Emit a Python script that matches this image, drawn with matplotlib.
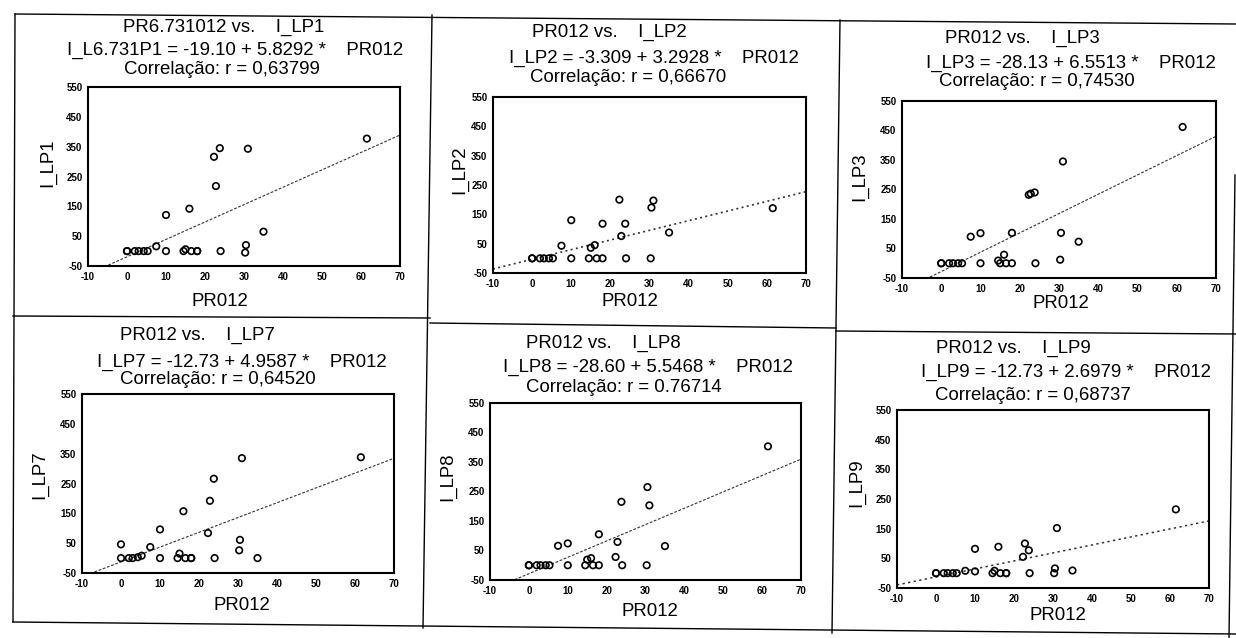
import matplotlib
matplotlib.use("Agg")
import matplotlib.pyplot as plt
from matplotlib.lines import Line2D

plt.rcParams['font.family'] = ['Liberation Sans', 'DejaVu Sans']
plt.rcParams['axes.unicode_minus'] = False

W, H = 1236, 638

# ---- data -------------------------------------------------------------
pr012 = [0, 0, 2, 3, 4.3, 5.3, 7.5, 10, 10, 14.5, 15, 16, 16.5, 18, 18,
         22.3, 22.8, 23.8, 24, 30.3, 30.5, 31, 35, 61.5]

i_lp1 = [0, 0, 0, 0, 0, 0, 16, 121, 0, 0, 6, 142, 0, 0, 0,
         316, 218, 345, 0, -5, 20, 343, 65, 377]
i_lp2 = [0, 0, 0, 0, 0, 0, 43, 130, 0, 0, 36, 45, 0, 0, 118,
         200, 76, 118, 0, 0, 173, 197, 88, 171]
i_lp3 = [0, 0, 0, 0, 0, 0, 90, 102, 0, 9, 0, 29, 0, 0, 103,
         232, 236, 240, 0, 12, 103, 345, 73, 462]
i_lp7 = [46, 0, 0, 0, 3, 8, 37, 96, 0, 0, 15, 157, 0, 0, 0,
         84, 192, 266, 0, 26, 61, 335, 0, 338]
i_lp8 = [0, 0, 0, 0, 0, 0, 66, 74, 0, 0, 19, 24, 0, 0, 105,
         28, 79, 215, 0, 0, 265, 203, 65, 403]
i_lp9 = [0, 0, 0, 0, 0, 0, 8, 82, 6, 0, 8, 89, 0, 0, 0,
         55, 100, 77, 0, 0, 16, 152, 9, 215]

series = [i_lp1, i_lp2, i_lp3, i_lp7, i_lp8, i_lp9]
y_names = ["I_LP1", "I_LP2", "I_LP3", "I_LP7", "I_LP8", "I_LP9"]
x_names = ["PR6.731012", "PR012", "PR012", "PR012", "PR012", "PR012"]
eq_names = ["I_L6.731P1", "I_LP2", "I_LP3", "I_LP7", "I_LP8", "I_LP9"]
intercepts = ["-19.10", "-3.309", "-28.13", "-12.73", "-28.60", "-12.73"]
slopes = ["5.8292", "3.2928", "6.5513", "4.9587", "5.5468", "2.6979"]
corr = ["0,63799", "0,66670", "0,74530", "0,64520", "0.76714", "0,68737"]

x_ticks = [-10, 0, 10, 20, 30, 40, 50, 60, 70]
y_ticks = [-50, 50, 150, 250, 350, 450, 550]

# ---- layout (pixel boxes: left, right, top, bottom) ---------------------
boxes = [(88, 400, 87, 266), (493, 806, 97, 273), (902, 1216, 101, 278),
         (82, 394, 394, 573), (490, 801, 403, 580), (897, 1209, 410, 588)]
title_pos = [[(224, 27), (235, 50), (222, 70)],
             [(609, 32), (654, 58), (628, 77)],
             [(1022, 38), (1071, 63), (1037, 82)],
             [(197, 335), (242, 362), (218, 380)],
             [(603, 343), (648, 367), (624, 388)],
             [(1013, 348), (1066, 372), (1033, 395)]]
xlabel_pos = [(220, 302), (630, 302), (1061, 303), (242, 605), (650, 612), (1058, 615)]
ylabel_pos = [(48, 163), (460, 170), (860, 177), (40, 475), (448, 477), (857, 483)]
line_styles = [(0, (2.5, 1.5)), (0, (1.2, 2.0)), (0, (2.5, 1.5)),
               (0, (2.5, 1.5)), (0, (2.5, 1.5)), (0, (1.5, 2.2))]
line_widths = [0.8, 1.2, 0.8, 0.8, 0.8, 1.1]

fig = plt.figure(figsize=(W / 100, H / 100), dpi=100)
FS = 13.4


def fx(px):
    return px / W


def fy(py):
    return 1 - py / H


for k in range(6):
    l, r, t, b = boxes[k]
    ax = fig.add_axes([fx(l), fy(b), (r - l) / W, (b - t) / H])
    ys = series[k]
    ax.scatter(pr012, ys, s=22, facecolors='none', edgecolors='black',
               linewidths=1.2, zorder=3)
    a = float(intercepts[k])
    m = float(slopes[k])
    xs = [-10, 70]
    ax.plot(xs, [a + m * v for v in xs], color='#333333',
            lw=line_widths[k], ls=line_styles[k], zorder=2)
    ax.set_xlim(-10, 70)
    ax.set_ylim(-50, 550)
    ax.set_xticks(x_ticks)
    ax.set_yticks(y_ticks)
    ax.set_xticklabels([str(v) for v in x_ticks], fontsize=7, fontweight='bold')
    ax.set_yticklabels([str(v) for v in y_ticks], fontsize=7, fontweight='bold')
    ax.tick_params(length=0, pad=4)
    for sp in ax.spines.values():
        sp.set_linewidth(1.5)
        sp.set_color('black')

    lines = [f"{x_names[k]} vs.    {y_names[k]}",
             f"{eq_names[k]} = {intercepts[k]} + {slopes[k]} *    PR012",
             f"Correlação: r = {corr[k]}"]
    for s, (cx, cy) in zip(lines, title_pos[k]):
        fig.text(fx(cx), fy(cy), s, ha='center', va='center', fontsize=FS)
    fig.text(fx(xlabel_pos[k][0]), fy(xlabel_pos[k][1]), "PR012",
             ha='center', va='center', fontsize=FS)
    fig.text(fx(ylabel_pos[k][0]), fy(ylabel_pos[k][1]), y_names[k],
             ha='center', va='center', fontsize=FS, rotation=90)

# ---- table frame around the six panels ---------------------------------
frame = [((15, 14), (1236, 24)),
         ((15, 14), (13, 622)),
         ((432, 15), (423, 628)),
         ((840, 20), (832, 633)),
         ((1235, 175), (1229, 638)),
         ((13, 316), (430, 318)),
         ((430, 323), (836, 328)),
         ((836, 331), (1236, 334)),
         ((13, 622), (1236, 634))]
for (x0, y0), (x1, y1) in frame:
    fig.add_artist(Line2D([fx(x0), fx(x1)], [fy(y0), fy(y1)],
                          transform=fig.transFigure, color='black', lw=1.0))

fig.savefig("out.png", dpi=100, facecolor='white')
